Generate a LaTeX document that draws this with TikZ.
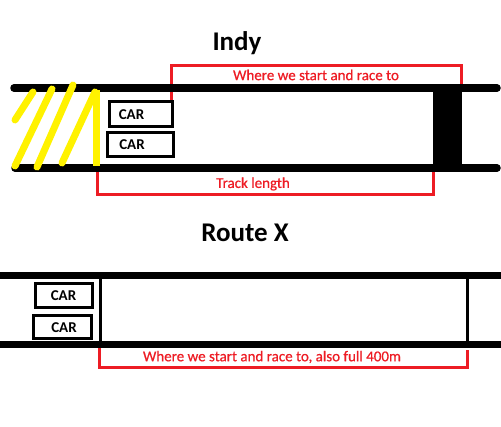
\documentclass[tikz,border=0pt]{standalone}
\usepackage{fontspec}
\setmainfont{Carlito}
\newfontfamily\redfont{Carlito}[FakeBold=0.6]
\definecolor{pred}{RGB}{237,28,36}
\definecolor{pyel}{RGB}{255,242,0}
\begin{document}
\begin{tikzpicture}[x=1pt,y=-1pt,
  track/.style={line width=7.5pt,black},
  hatch/.style={line width=7pt,pyel,line cap=round},
  carbox/.style={draw,line width=3pt,minimum width=#1,inner sep=0pt,font=\bfseries\fontsize{15}{15}\selectfont},
  bracket/.style={draw=pred,line width=3pt},
  redtext/.style={text=pred,font=\redfont\fontsize{15}{15}\selectfont,inner sep=0pt},
  title/.style={font=\bfseries\fontsize{27}{27}\selectfont,inner sep=0pt}]
\useasboundingbox (0,0) rectangle (501,427);
% ---------- Indy ----------
\node[title] (indy) at (237,43) {Indy};
\coordinate (t1l) at (14,88); \coordinate (t1r) at (497,88);
\coordinate (b1l) at (15,168); \coordinate (b1r) at (497,168);
% red brackets
\coordinate (r1a) at (171,102); \coordinate (r1b) at (171,66);
\coordinate (r1c) at (461,66); \coordinate (r1d) at (461,84);
\draw[bracket] (r1a) -- (r1b) -- (r1c) -- (r1d);
\node[redtext] (lab1) at (316,75) {Where we start and race to};
\coordinate (r2a) at (97,170); \coordinate (r2b) at (97,195);
\coordinate (r2c) at (433,195); \coordinate (r2d) at (433,170);
\draw[bracket] (r2a) -- (r2b) -- (r2c) -- (r2d);
\node[redtext] (lab2) at (253,184) {Track length};
% track lines
\draw[track,line cap=round] (t1l) -- (t1r);
\draw[track,line cap=round] (b1l) -- (b1r);
% finish block
\fill[black] (433,88) rectangle (462,168);
% cars
\node[carbox=63pt,minimum height=25pt] (car1) at (140.5,114.5) {\hspace{-18pt}\raisebox{-2pt}{CAR}};
\node[carbox=66pt,minimum height=24pt] (car2) at (140,145) {\hspace{-16pt}\raisebox{-1pt}{CAR}};
% yellow hatch
\coordinate (y1a) at (33,92); \coordinate (y1b) at (15,120);
\coordinate (y2a) at (52,89); \coordinate (y2b) at (15,166);
\coordinate (y3a) at (73,85); \coordinate (y3b) at (37,167);
\coordinate (y4a) at (95,92); \coordinate (y4b) at (62,163);
\coordinate (yva) at (96,90); \coordinate (yvb) at (96,166);
\draw[hatch] (y1a) -- (y1b);
\draw[hatch] (y2a) -- (y2b);
\draw[hatch] (y3a) -- (y3b);
\draw[hatch] (y4a) -- (y4b);
\draw[hatch,line cap=butt] (yva) -- (yvb);
% ---------- Route X ----------
\node[title] (routex) at (245,233) {Route X};
\coordinate (t2l) at (0,275.5); \coordinate (t2r) at (501,275.5);
\coordinate (b2l) at (0,344.5); \coordinate (b2r) at (501,344.5);
\draw[track] (t2l) -- (t2r);
\draw[track] (b2l) -- (b2r);
\coordinate (v1a) at (100,278); \coordinate (v1b) at (100,342);
\coordinate (v2a) at (467,278); \coordinate (v2b) at (467,342);
\draw[line width=3pt] (v1a) -- (v1b);
\draw[line width=3pt] (v2a) -- (v2b);
\node[carbox=57pt,minimum height=24pt] (car3) at (63.5,296) {CAR};
\node[carbox=58pt,minimum height=23pt] (car4) at (62,327.5) {\hspace{4pt}CAR};
\coordinate (r3a) at (99,348); \coordinate (r3b) at (99,368);
\coordinate (r3c) at (467,368); \coordinate (r3d) at (467,350);
\draw[bracket] (r3a) -- (r3b) -- (r3c) -- (r3d);
\node[redtext] (lab3) at (272,357) {Where we start and race to, also full 400m};
\end{tikzpicture}
\end{document}
